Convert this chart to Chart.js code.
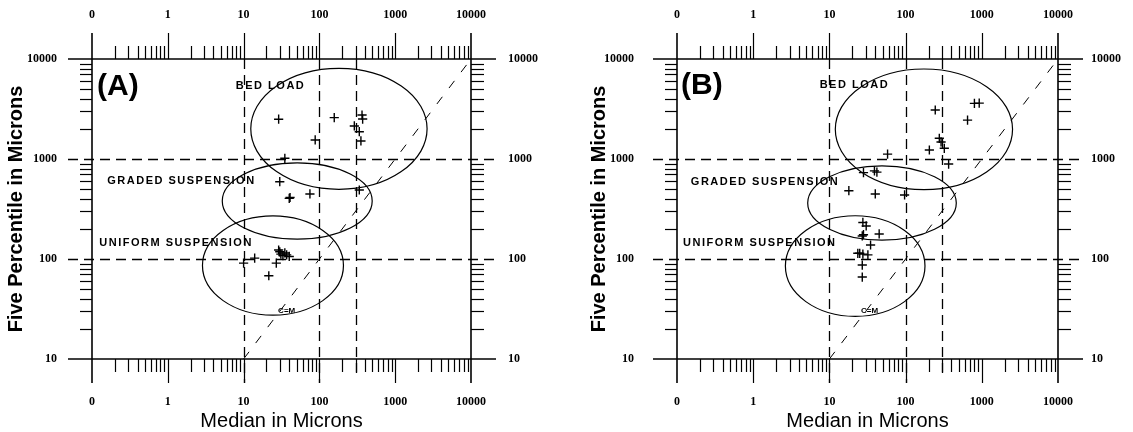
<!DOCTYPE html>
<html>
<head>
<meta charset="utf-8">
<script src="https://cdn.jsdelivr.net/npm/chart.js@4"></script>
<style>
  html, body { margin: 0; padding: 0; background: #fff; }
  #wrap { position: relative; width: 1133px; height: 432px; }
  canvas { position: absolute; top: 0; }
  #chartA { left: 0; }
  #chartB { left: 566px; }
</style>
</head>
<body>
<div id="wrap">
  <canvas id="chartA" width="566" height="432"></canvas>
  <canvas id="chartB" width="567" height="432"></canvas>
</div>
<script>
// axes
const xMin = 0.1, xMax = 10000
const yMin = 10, yMax = 10000
const xTickLabels = ['0', '1', '10', '100', '1000', '10000']
const yTickLabels = ['10', '100', '1000', '10000']
const refX = [10, 100, 300]
const refY = [100, 1000]
const diagonal = [10, 9000]

// panel A samples (median, five percentile) in microns
const medianA = [29, 157, 289, 365, 372, 336, 353, 88, 35, 30, 40, 41, 75, 336, 10, 14, 21.5, 27, 29, 30, 31, 33, 35, 37, 40]
const fivePctA = [2500, 2590, 2140, 2750, 2510, 1875, 1515, 1550, 1016, 593, 404, 412, 447, 490, 91, 102, 68, 91, 123, 118, 112, 108, 115, 110, 106]

// panel B samples
const medianB = [245, 800, 925, 650, 277, 292, 322, 205, 367, 58, 28, 39, 42, 18, 40, 97, 27.5, 30.4, 27, 28, 45, 34.7, 23.6, 25, 27.5, 32, 27, 27]
const fivePctB = [3090, 3600, 3620, 2450, 1610, 1480, 1280, 1230, 890, 1120, 730, 760, 740, 482, 447, 437, 232, 214, 170, 175, 178, 138, 114, 114, 112, 110, 87, 66]

// zones: [centre median, centre five percentile, half width, half height] (half sizes in decades)
const bedLoadA = [181, 2004, 1.163, 0.605]
const gradedA = [51, 380, 0.989, 0.382]
const uniformA = [24.4, 86, 0.93, 0.496]
const bedLoadB = [174, 1982, 1.163, 0.603]
const gradedB = [49, 363, 0.975, 0.372]
const uniformB = [21.8, 85, 0.916, 0.503]

const isDecade = v => Math.abs(Math.log10(v) - Math.round(Math.log10(v))) < 1e-6

function logTicks(scale, lo, hi) {
  const ticks = []
  for (let e = Math.round(Math.log10(lo)); e < Math.round(Math.log10(hi)); e++) {
    for (let m = 1; m < 10; m++) ticks.push({ value: Number((m * Math.pow(10, e)).toPrecision(6)) })
  }
  ticks.push({ value: hi })
  scale.ticks = ticks
}

const tickFont = { family: 'Liberation Serif', size: 12, weight: 'bold' }

const overlay = {
  id: 'overlay',
  beforeDatasetsDraw(chart) {
    const { ctx, chartArea: a, scales: { x, y } } = chart
    const line = (x1, y1, x2, y2) => { ctx.beginPath(); ctx.moveTo(x1, y1); ctx.lineTo(x2, y2); ctx.stroke() }
    ctx.save()
    ctx.strokeStyle = '#000'
    ctx.lineWidth = 1.2
    x.ticks.forEach(t => {
      const px = Math.round(x.getPixelForValue(t.value)) + 0.5
      if (t.value === xMin || t.value === xMax) return
      const major = isDecade(t.value)
      line(px, a.top - (major ? 26 : 13), px, a.top)
      line(px, a.bottom, px, a.bottom + (major ? 24 : 13))
    })
    y.ticks.forEach(t => {
      if (isDecade(t.value)) return
      const py = Math.round(y.getPixelForValue(t.value)) + 0.5
      line(a.left - 12, py, a.left, py)
      line(a.right, py, a.right + 13, py)
    })
    // frame, extended like the major ticks
    ctx.lineWidth = 1.6
    line(a.left - 24, a.top, a.right + 25, a.top)
    line(a.left - 24, a.bottom, a.right + 25, a.bottom)
    line(a.left, a.top - 26, a.left, a.bottom + 24)
    line(a.right, a.top - 26, a.right, a.bottom + 24)
    // dashed class limits
    ctx.lineWidth = 1.3
    ctx.setLineDash([10, 6])
    refY.forEach(v => {
      const py = Math.round(y.getPixelForValue(v)) + 0.5
      line(a.left - 24, py, a.right + 25, py)
    })
    refX.forEach(v => {
      const px = Math.round(x.getPixelForValue(v)) + 0.5
      line(px, a.top, px, a.bottom + (isDecade(v) ? 24 : 16))
    })
    ctx.restore()
  },
  afterDatasetsDraw(chart, args, opts) {
    const { ctx, scales: { x, y } } = chart
    ctx.save()
    ctx.strokeStyle = '#000'
    ctx.lineWidth = 1.2
    opts.zones.forEach(([cx, cy, hw, hh]) => {
      const px = x.getPixelForValue(cx), py = y.getPixelForValue(cy)
      const rx = (x.getPixelForValue(cx * Math.pow(10, hw)) - x.getPixelForValue(cx / Math.pow(10, hw))) / 2
      const ry = (y.getPixelForValue(cy / Math.pow(10, hh)) - y.getPixelForValue(cy * Math.pow(10, hh))) / 2
      ctx.beginPath()
      ctx.ellipse(px, py, rx, ry, 0, 0, Math.PI * 2)
      ctx.stroke()
    })
    ctx.fillStyle = '#000'
    ctx.textBaseline = 'middle'
    opts.labels.forEach(l => {
      ctx.font = l.font
      ctx.letterSpacing = l.spacing || '0px'
      ctx.textAlign = l.align || 'left'
      const px = l.px != null ? l.px : x.getPixelForValue(l.x)
      const py = l.py != null ? l.py : y.getPixelForValue(l.y)
      ctx.fillText(l.text, px, py)
    })
    ctx.restore()
  }
}

function makePanel(id, median, fivePct, zones, labels, box) {
  const xAxis = (position, tickLength, padding, extra) => Object.assign({
    type: 'logarithmic', position, min: xMin, max: xMax,
    afterBuildTicks: s => logTicks(s, xMin, xMax),
    ticks: {
      autoSkip: false, maxRotation: 0, padding, color: '#000', font: tickFont,
      callback: v => isDecade(v) ? xTickLabels[Math.round(Math.log10(v)) + 1] : ''
    },
    grid: { drawOnChartArea: false, drawTicks: true, tickLength, color: 'transparent' },
    border: { display: false }
  }, extra)
  const yAxis = (position, padding, extra) => Object.assign({
    type: 'logarithmic', position, min: yMin, max: yMax,
    afterBuildTicks: s => logTicks(s, yMin, yMax),
    ticks: {
      autoSkip: false, padding, color: '#000', font: tickFont,
      callback: v => isDecade(v) ? yTickLabels[Math.round(Math.log10(v)) - 1] : ''
    },
    grid: { drawOnChartArea: false, drawTicks: true, tickLength: 24, color: 'transparent' },
    border: { display: false }
  }, extra)

  return new Chart(document.getElementById(id), {
    type: 'scatter',
    data: {
      datasets: [
        {
          label: 'C=M',
          type: 'line',
          data: diagonal.map(v => ({ x: v, y: v })),
          borderColor: '#000', borderWidth: 1, borderDash: [9, 11],
          pointRadius: 0, fill: false
        },
        {
          label: 'samples',
          data: median.map((m, i) => ({ x: m, y: fivePct[i] })),
          pointStyle: 'cross', pointRadius: 4.6, borderWidth: 1.4,
          borderColor: '#000', backgroundColor: '#000'
        }
      ]
    },
    options: {
      responsive: false, animation: false, devicePixelRatio: 1,
      layout: { padding: 0 },
      plugins: {
        legend: { display: false }, tooltip: { enabled: false },
        overlay: { zones, labels }
      },
      scales: {
        x: xAxis('bottom', 24, 12, {
          afterFit: s => { s.height = box.bottom },
          title: {
            display: true, text: 'Median in Microns', color: '#000',
            font: { family: 'Liberation Sans', size: 20, lineHeight: 1 },
            padding: { top: 0, bottom: 1 }
          }
        }),
        x2: xAxis('top', 26, 11, { afterFit: s => { s.height = box.top } }),
        y: yAxis('left', box.padL, {
          afterFit: s => { s.width = box.left },
          title: {
            display: true, text: 'Five Percentile in Microns', color: '#000',
            font: { family: 'Liberation Sans', size: 20, weight: 'bold', lineHeight: 1 },
            padding: { top: box.titleL, bottom: 0 }
          }
        }),
        y2: yAxis('right', box.padR, { afterFit: s => { s.width = box.right } })
      }
    },
    plugins: [overlay]
  })
}

const zoneFont = 'bold 11px "Liberation Sans"'

makePanel('chartA', medianA, fivePctA, [bedLoadA, gradedA, uniformA], [
  { text: '(A)', font: 'bold 30px "Liberation Sans"', px: 97, py: 87 },
  { text: 'BED LOAD', font: zoneFont, spacing: '1.5px', x: 7.9, y: 5400 },
  { text: 'GRADED SUSPENSION', font: zoneFont, spacing: '1.5px', x: 0.159, y: 600 },
  { text: 'UNIFORM SUSPENSION', font: zoneFont, spacing: '1.5px', x: 0.125, y: 144 },
  { text: 'C=M', font: 'bold 8px "Liberation Sans"', align: 'center', x: 37, y: 30 }
], { left: 92, right: 95, top: 59, bottom: 73, padL: 11, padR: 13, titleL: 6 })

makePanel('chartB', medianB, fivePctB, [bedLoadB, gradedB, uniformB], [
  { text: '(B)', font: 'bold 30px "Liberation Sans"', px: 115, py: 86 },
  { text: 'BED LOAD', font: zoneFont, spacing: '1.5px', x: 7.45, y: 5500 },
  { text: 'GRADED SUSPENSION', font: zoneFont, spacing: '1.5px', x: 0.152, y: 592 },
  { text: 'UNIFORM SUSPENSION', font: zoneFont, spacing: '1.5px', x: 0.12, y: 146 },
  { text: 'C=M', font: 'bold 8px "Liberation Sans"', align: 'center', x: 33.6, y: 30 }
], { left: 111, right: 75, top: 59, bottom: 73, padL: 19, padR: 9, titleL: 23 })
</script>
</body>
</html>
